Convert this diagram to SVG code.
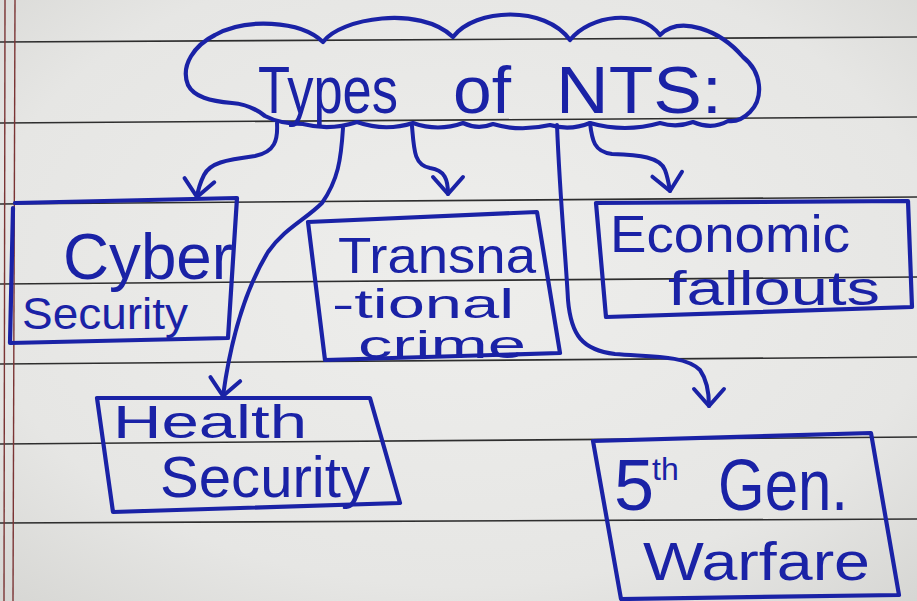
<svg xmlns="http://www.w3.org/2000/svg" width="917" height="601" viewBox="0 0 917 601">
  <defs>
    <radialGradient id="paper" cx="50%" cy="45%" r="75%">
      <stop offset="0" stop-color="#eeeeec"/>
      <stop offset="0.7" stop-color="#e6e6e4"/>
      <stop offset="1" stop-color="#d6d6d3"/>
    </radialGradient>
    <marker id="head" markerUnits="userSpaceOnUse" viewBox="-24 -20 30 40" refX="0" refY="0" markerWidth="30" markerHeight="40" orient="auto" overflow="visible">
      <path d="M -17 -15 L 0 0 L -17 15" fill="none" stroke="#1a22a6" stroke-width="4" stroke-linecap="round" stroke-linejoin="round"/>
    </marker>
    <style>
      .rule { stroke: #2e2e2e; stroke-width: 1.6; fill: none; }
      .margin { stroke: #7a3434; stroke-width: 1.4; fill: none; }
      .ink { stroke: #1a22a6; stroke-width: 4.2; fill: none; stroke-linecap: round; stroke-linejoin: round; }
      .link { stroke: #1a22a6; stroke-width: 4; fill: none; stroke-linecap: round; marker-end: url(#head); }
      .hand { fill: #1a22a6; font-family: "Liberation Sans", "DejaVu Sans", sans-serif; }
    </style>
  </defs>

  <!-- ruled notebook page -->
  <rect width="917" height="601" fill="url(#paper)"/>
  <g id="page-rules">
    <line class="rule" x1="0" y1="42" x2="917" y2="37"/>
    <line class="rule" x1="0" y1="123" x2="917" y2="117"/>
    <line class="rule" x1="0" y1="204" x2="917" y2="197"/>
    <line class="rule" x1="0" y1="284" x2="917" y2="277"/>
    <line class="rule" x1="0" y1="364" x2="917" y2="357"/>
    <line class="rule" x1="0" y1="444" x2="917" y2="437"/>
    <line class="rule" x1="0" y1="523" x2="917" y2="519"/>
    <line class="margin" x1="5" y1="0" x2="4" y2="601"/>
    <line class="margin" x1="15" y1="0" x2="13" y2="601"/>
  </g>

  <!-- title cloud -->
  <g id="title">
    <path class="ink" d="M 188,85 C 180,65 195,45 215,35 C 245,18 300,20 323,42 C 340,18 420,5 453,37 C 475,8 545,5 570,40 C 590,15 640,8 660,35 C 680,15 720,30 743,57 C 762,72 764,98 750,112 C 742,120 735,122 728,121 Q 712,130 693,122 Q 677,128 660,123 Q 625,133 590,123 Q 570,131 550,125 Q 520,132 493,124 Q 478,130 463,123 Q 438,132 413,123 Q 385,132 357,122 Q 330,131 303,124 Q 280,124 265,116 C 255,108 245,104 232,103 C 210,101 194,97 188,85 Z"/>
    <text class="hand" y="113" font-size="66"><tspan x="258" textLength="140" lengthAdjust="spacingAndGlyphs">Types</tspan> <tspan x="453" textLength="58" lengthAdjust="spacingAndGlyphs">of</tspan> <tspan x="556" textLength="166" lengthAdjust="spacingAndGlyphs">NTS:</tspan></text>
  </g>

  <!-- connectors -->
  <g id="connectors">
    <path class="link" d="M 277,123 C 278,140 275,152 255,156 C 225,160 210,163 204,175 C 200,183 198,190 197,197"/>
    <path class="link" d="M 343,128 C 341,160 338,180 322,203 C 305,220 285,228 268,252 C 248,285 232,330 223,396"/>
    <path class="link" d="M 412,126 C 414,150 414,165 430,168 C 445,170 448,180 448,194"/>
    <path class="link" d="M 590,123 C 592,140 594,152 612,154 C 640,155 660,157 665,170 C 668,178 669,185 670,191"/>
    <path class="link" d="M 557,125 C 560,200 566,260 568,300 C 571,335 582,350 615,354 C 650,357 685,355 700,370 C 707,380 709,392 709,406"/>
  </g>

  <g id="cyber-security">
    <path class="ink" d="M 15,203 L 237,198 L 228,338 L 10,343 L 13,208"/>
    <text class="hand" x="63" y="279" font-size="64" textLength="170" lengthAdjust="spacingAndGlyphs">Cyber</text>
    <text class="hand" x="22" y="329" font-size="44" textLength="166" lengthAdjust="spacingAndGlyphs">Security</text>
  </g>

  <g id="transnational-crime">
    <path class="ink" d="M 308,222 L 537,212 L 560,353 L 325,360 Z"/>
    <text class="hand" x="338" y="273" font-size="50" textLength="198" lengthAdjust="spacingAndGlyphs">Transna</text>
    <text class="hand" x="332" y="318" font-size="40" textLength="182" lengthAdjust="spacingAndGlyphs">-tional</text>
    <text class="hand" x="358" y="358" font-size="38" textLength="168" lengthAdjust="spacingAndGlyphs">crime</text>
  </g>

  <g id="economic-fallouts">
    <path class="ink" d="M 596,203 L 908,201 L 912,307 L 606,317 Z"/>
    <text class="hand" x="610" y="252" font-size="52" textLength="240" lengthAdjust="spacingAndGlyphs">Economic</text>
    <text class="hand" x="668" y="305" font-size="48" textLength="212" lengthAdjust="spacingAndGlyphs">fallouts</text>
  </g>

  <g id="health-security">
    <path class="ink" d="M 97,398 L 370,398 L 400,503 L 113,512 Z"/>
    <text class="hand" x="113" y="438" font-size="46" textLength="194" lengthAdjust="spacingAndGlyphs">Health</text>
    <text class="hand" x="160" y="497" font-size="58" textLength="210" lengthAdjust="spacingAndGlyphs">Security</text>
  </g>

  <g id="fifth-gen-warfare">
    <path class="ink" d="M 593,441 L 871,433 L 899,595 L 621,599 Z"/>
    <text class="hand" font-size="72"><tspan x="614" y="510">5</tspan><tspan x="652" y="480" font-size="32">th</tspan><tspan x="718" y="510" textLength="130" lengthAdjust="spacingAndGlyphs">Gen.</tspan></text>
    <text class="hand" x="643" y="580" font-size="54" textLength="227" lengthAdjust="spacingAndGlyphs">Warfare</text>
  </g>
</svg>
